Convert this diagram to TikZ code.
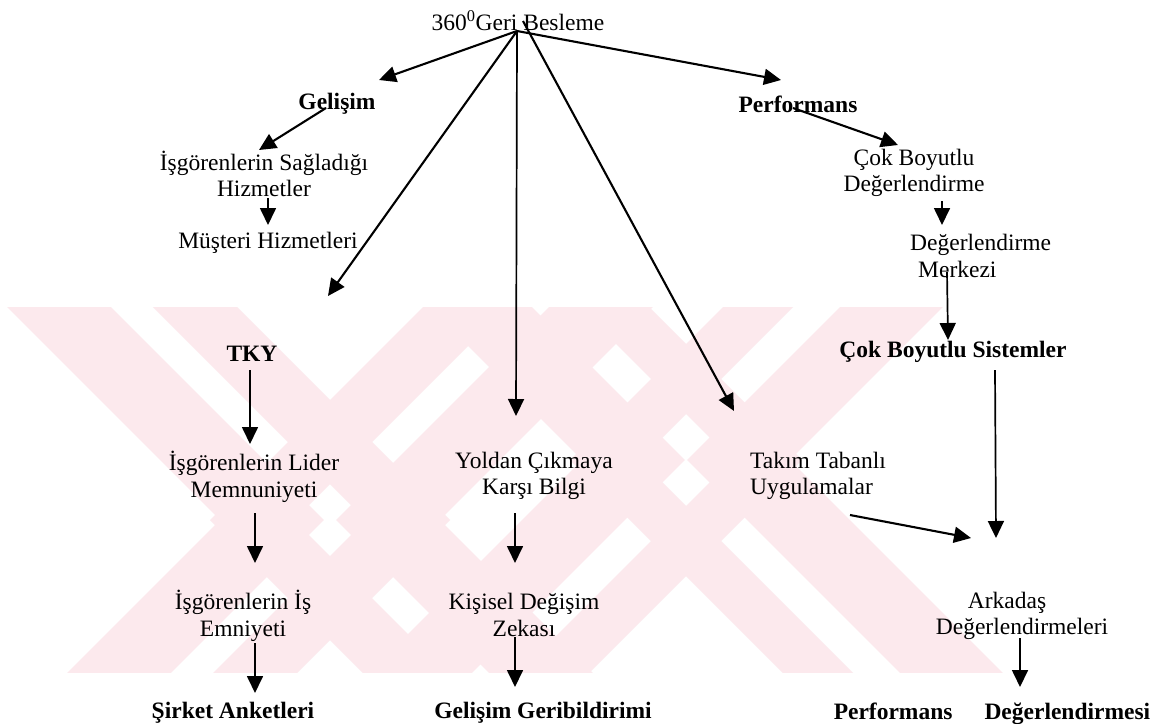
\documentclass[tikz,border=0pt]{standalone}
\usepackage{fontspec}
\setmainfont{Liberation Serif}
\usetikzlibrary{arrows.meta}
\definecolor{wmpink}{RGB}{252,233,237}
\begin{document}
\begin{tikzpicture}[x=1pt,y=-1pt,
  lbl/.style={font=\fontsize{23.5}{26.5}\selectfont, inner sep=0pt, align=center},
  hdr/.style={lbl, font=\fontsize{23.5}{26.5}\selectfont\bfseries},
  conn/.style={line width=1.7pt, -{Triangle[length=17pt,width=16pt]}},
  bigconn/.style={conn, line width=2.1pt},
  band/.style={draw=wmpink, line join=miter, miter limit=20},
]
\useasboundingbox (0,0) rectangle (1169,723);
\fill[white] (0,0) rectangle (1169,723);

% background emblem: crossed double chevrons, cut to a horizontal strip
% right-pointing chevron: apex x, apex y, stroke width
\def\chevR#1#2#3{\draw[band, line width=#3pt] (#1-320,#2-320) -- (#1,#2) -- (#1-320,#2+320);}
% left-pointing chevron
\def\chevL#1#2#3{\draw[band, line width=#3pt] (#1+320,#2-320) -- (#1,#2) -- (#1+320,#2+320);}
\begin{scope}
  \clip (0,307) rectangle (1169,672);
  % left figure
  \chevR{272}{520}{73.5}
  \chevR{408}{520}{59.4}
  \chevL{252}{520}{59.4}
  \chevL{388}{520}{73.5}
  % right figure
  \chevR{633.5}{460}{72.8}
  \chevR{767}{460}{49.5}
  \chevL{605}{460}{49.5}
  \chevL{738.5}{460}{72.8}
\end{scope}

% labels
\node[lbl] (root) at (518,21) {360\textsuperscript{0}Geri Besleme};
\node[hdr] (gel) at (337,104) {Gelişim};
\node[hdr] (perf) at (798,104) {Performans};
\node[lbl] (isg) at (264,174) {İşgörenlerin Sağladığı\\Hizmetler};
\node[lbl] (mus) at (268,243) {Müşteri Hizmetleri};
\node[hdr] (tky) at (252,354) {TKY};
\node[lbl] (lider) at (254,477) {İşgörenlerin Lider\\Memnuniyeti};
\node[lbl] (emn) at (243,616) {İşgörenlerin İş\\Emniyeti};
\node[hdr] (sirket) at (233,713) {Şirket Anketleri};
\node[lbl] (yoldan) at (534,476) {Yoldan Çıkmaya\\Karşı Bilgi};
\node[lbl] (kisisel) at (524,615) {Kişisel Değişim\\Zekası};
\node[hdr] (gelger) at (543,713) {Gelişim Geribildirimi};
\node[lbl, anchor=west, align=left] (takim) at (750,476) {Takım Tabanlı\\Uygulamalar};
\node[lbl] (cokb) at (914,173) {Çok Boyutlu\\Değerlendirme};
\node[lbl, anchor=west, align=left] (merkez) at (910,256) {Değerlendirme\\\hspace*{8pt}Merkezi};
\node[hdr] (sistem) at (953,352) {Çok Boyutlu Sistemler};
\node[lbl] (arkadas) at (1022,616) {\hspace*{-30pt}Arkadaş\\Değerlendirmeleri};
\node[hdr] (perfdeg) at (992,714) {Performans\hspace{32pt}Değerlendirmesi};

% connector end points
\coordinate (hub) at (517,31);
\coordinate (hubtop) at (523,21);
\coordinate (gelTip) at (379,80);
\coordinate (perfTip) at (781,80);
\coordinate (tkyTip) at (328,296);
\coordinate (yolTip) at (516,416);
\coordinate (takTip) at (734,411);
\coordinate (gelOut) at (326,108);
\coordinate (isgTip) at (259,150);
\coordinate (isgOut) at (268,198);
\coordinate (musTip) at (268,225);
\coordinate (perfOut) at (793,108);
\coordinate (cokTip) at (898,145);
\coordinate (cokOut) at (942,201);
\coordinate (merTip) at (942,225);
\coordinate (merOut) at (947,272);
\coordinate (sisTip) at (948,340);
\coordinate (sisOut) at (995,370);
\coordinate (arkTipA) at (996,538);
\coordinate (takOut) at (850,515);
\coordinate (arkTipB) at (971,538);
\coordinate (tkyOut) at (250,370);
\coordinate (lidTip) at (250,444);
\coordinate (lidOut) at (255,513);
\coordinate (emnTip) at (255,563);
\coordinate (emnOut) at (255,643);
\coordinate (sirTip) at (255,693);
\coordinate (yolOut) at (515,513);
\coordinate (kisTip) at (515,563);
\coordinate (kisOut) at (515,637);
\coordinate (ggTip) at (515,687);
\coordinate (arkOut) at (1020,638);
\coordinate (pdTip) at (1020,687);

% connectors from the root
\draw[bigconn] (hub) -- (gelTip);
\draw[bigconn] (hub) -- (perfTip);
\draw[bigconn] (hub) -- (tkyTip);
\draw[conn] (hub) -- (yolTip);
\draw[bigconn] (hubtop) -- (takTip);

% branch connectors
\draw[bigconn] (gelOut) -- (isgTip);
\draw[conn] (isgOut) -- (musTip);
\draw[bigconn] (perfOut) -- (cokTip);
\draw[conn] (cokOut) -- (merTip);
\draw[conn] (merOut) -- (sisTip);
\draw[conn] (sisOut) -- (arkTipA);
\draw[bigconn] (takOut) -- (arkTipB);
\draw[conn] (tkyOut) -- (lidTip);
\draw[conn] (lidOut) -- (emnTip);
\draw[conn] (emnOut) -- (sirTip);
\draw[conn] (yolOut) -- (kisTip);
\draw[conn] (kisOut) -- (ggTip);
\draw[conn] (arkOut) -- (pdTip);
\end{tikzpicture}
\end{document}
